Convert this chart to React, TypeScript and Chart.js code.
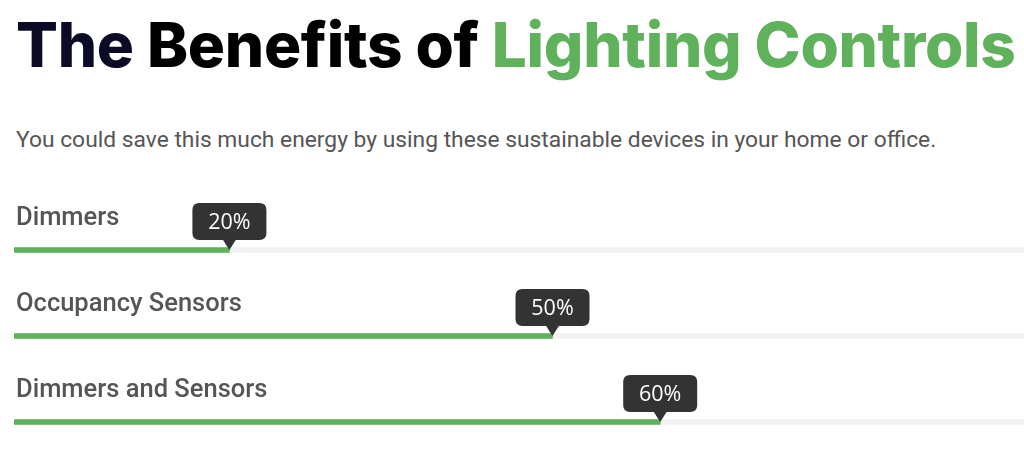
import React, { useEffect, useRef } from "react";
import { Chart, registerables } from "chart.js";

Chart.register(...registerables);

const titleParts = ["The", "Benefits of", "Lighting Controls"];
const subtitle = "You could save this much energy by using these sustainable devices in your home or office.";
const categories = ["Dimmers", "Occupancy Sensors", "Dimmers and Sensors"];
const savings = [20, 50, 60];
const trackValues = [100, 100, 100];
const axisMin = 0;
const axisMax = 100;

const GREEN = "#5fb15b";

function roundRectPath(ctx: CanvasRenderingContext2D, x: number, y: number, w: number, h: number, r: number) {
  ctx.beginPath();
  ctx.moveTo(x + r, y);
  ctx.lineTo(x + w - r, y);
  ctx.quadraticCurveTo(x + w, y, x + w, y + r);
  ctx.lineTo(x + w, y + h - r);
  ctx.quadraticCurveTo(x + w, y + h, x + w - r, y + h);
  ctx.lineTo(x + r, y + h);
  ctx.quadraticCurveTo(x, y + h, x, y + h - r);
  ctx.lineTo(x, y + r);
  ctx.quadraticCurveTo(x, y, x + r, y);
  ctx.closePath();
}

const labelsPlugin = {
  id: "progressLabels",
  afterDatasetsDraw(chart: any) {
    const ctx: CanvasRenderingContext2D = chart.ctx;
    const meta = chart.getDatasetMeta(0);
    ctx.save();
    meta.data.forEach((bar: any, i: number) => {
      const x = bar.x;
      const y = bar.y;
      // category label
      ctx.font = "500 25.5px Roboto";
      ctx.fillStyle = "#555555";
      ctx.textAlign = "left";
      ctx.textBaseline = "alphabetic";
      ctx.fillText(String(chart.data.labels[i]), 16, y - 25);
      // bubble
      const text = savings[i] + "%";
      const w = 74;
      const h = 37;
      const bottom = y - 10;
      const top = bottom - h;
      ctx.fillStyle = "#333333";
      roundRectPath(ctx, x - w / 2, top, w, h, 7);
      ctx.fill();
      ctx.beginPath();
      ctx.moveTo(x - 7, bottom - 1);
      ctx.lineTo(x + 7, bottom - 1);
      ctx.lineTo(x, y);
      ctx.closePath();
      ctx.fill();
      ctx.font = "21.5px 'Open Sans'";
      ctx.fillStyle = "#ffffff";
      ctx.textAlign = "center";
      ctx.textBaseline = "middle";
      ctx.fillText(text, x, top + h / 2 + 1);
    });
    ctx.restore();
  },
};

export default function App() {
  const canvasRef = useRef<HTMLCanvasElement | null>(null);

  useEffect(() => {
    if (!canvasRef.current) return;
    const chart = new Chart(canvasRef.current, {
      type: "bar",
      data: {
        labels: categories,
        datasets: [
          {
            data: savings,
            backgroundColor: GREEN,
            barThickness: 5,
            grouped: false,
            borderWidth: 0,
          } as any,
          {
            data: trackValues,
            backgroundColor: "#f1f1f1",
            barThickness: 5,
            grouped: false,
            borderWidth: 0,
          } as any,
        ],
      },
      options: {
        indexAxis: "y",
        responsive: false,
        animation: false,
        layout: { padding: { left: 14, right: 5, top: 37, bottom: 5 } },
        plugins: {
          legend: { display: false },
          tooltip: { enabled: false },
          title: { display: false },
        },
        scales: {
          x: { display: false, min: axisMin, max: axisMax },
          y: { display: false },
        },
      },
      plugins: [labelsPlugin],
    });
    return () => chart.destroy();
  }, []);

  return (
    <div
      style={{
        position: "absolute",
        left: 0,
        top: 0,
        width: 1024,
        height: 459,
        overflow: "hidden",
        background: "#ffffff",
      }}
    >
      <div
        style={{
          position: "absolute",
          left: 16,
          top: 14,
          fontFamily: "Inter, sans-serif",
          fontWeight: 800,
          fontSize: 62,
          lineHeight: 1,
          whiteSpace: "nowrap",
          letterSpacing: "-0.3px",
        }}
      >
        <span style={{ color: "#0b0b25" }}>{titleParts[0]}</span>{" "}
        <span style={{ color: "#000000" }}>{titleParts[1]}</span>{" "}
        <span style={{ color: GREEN }}>{titleParts[2]}</span>
      </div>
      <div
        style={{
          position: "absolute",
          left: 16,
          top: 129,
          fontFamily: "Roboto, sans-serif",
          fontSize: 22.8,
          lineHeight: 1,
          color: "#555555",
          whiteSpace: "nowrap",
        }}
      >
        {subtitle}
      </div>
      <canvas
        ref={canvasRef}
        width={1096}
        height={300}
        style={{ position: "absolute", left: 0, top: 170, width: 1096, height: 300 }}
      />
    </div>
  );
}
